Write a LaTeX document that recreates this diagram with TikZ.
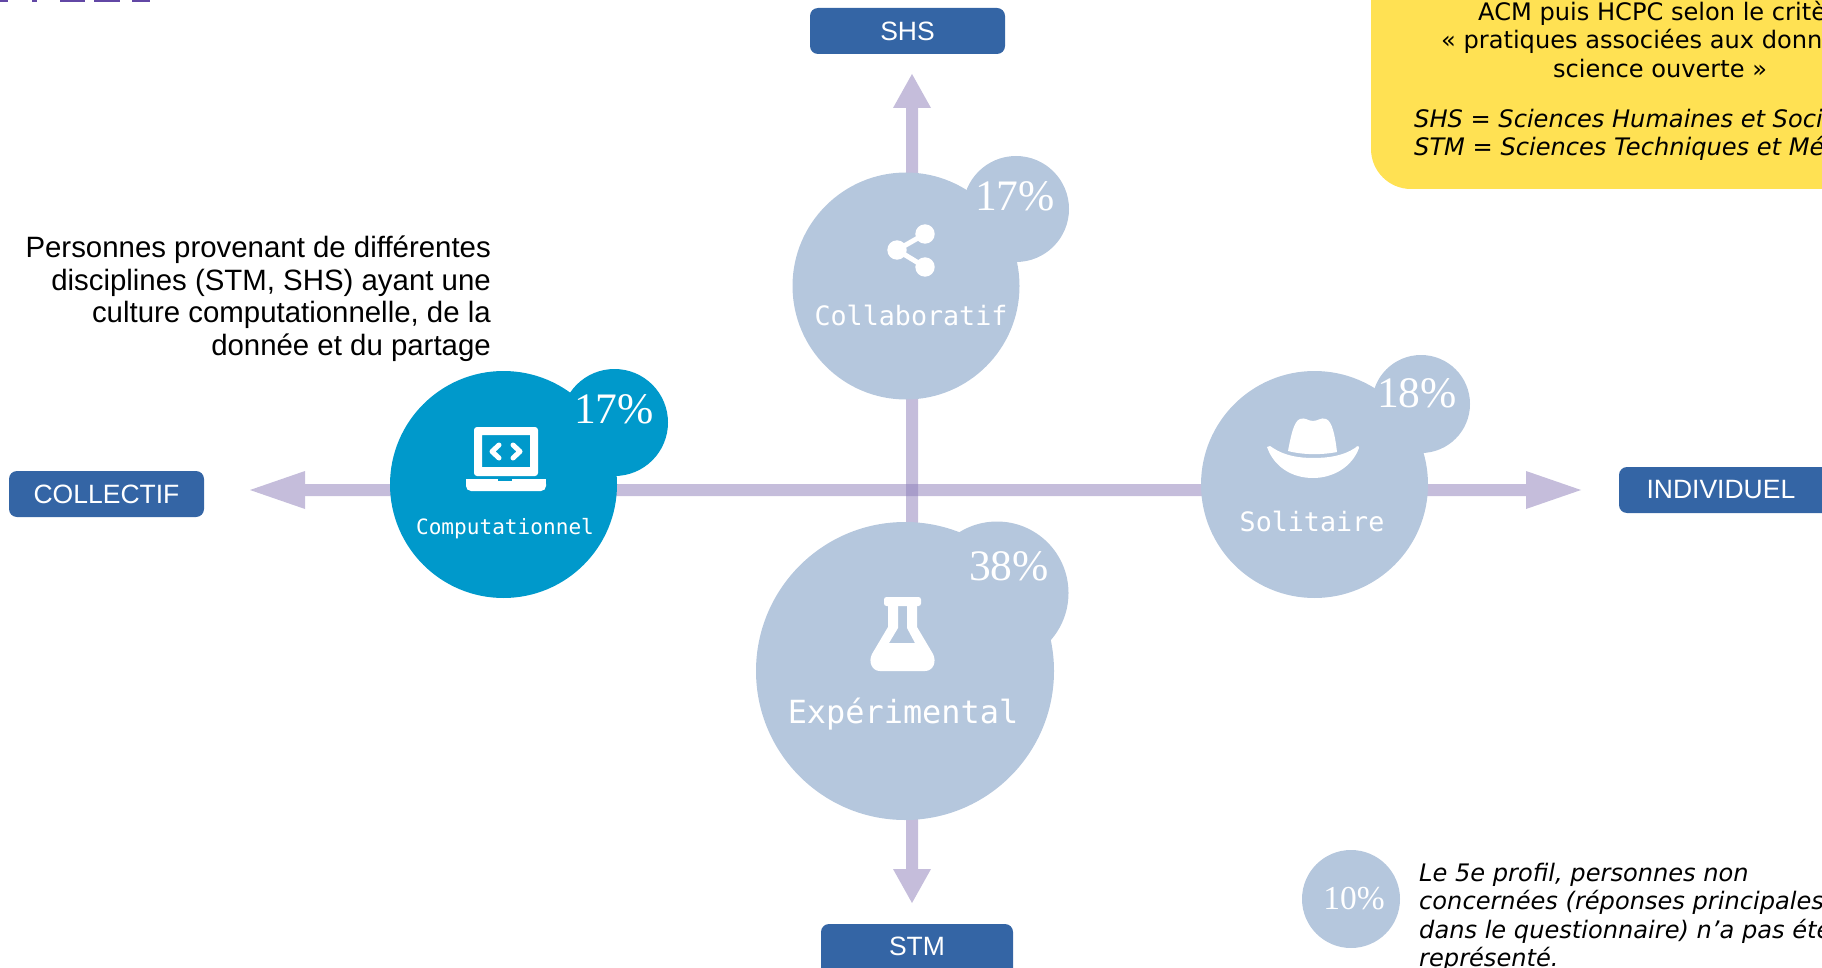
\documentclass[tikz,border=0pt]{standalone}
\usepackage{fontspec}
\setmainfont{Liberation Sans}
\newfontfamily\monofont{DejaVu Sans Mono}
\newfontfamily\percentfont{Liberation Serif}
\newfontfamily\notefont{DejaVu Sans}
\usetikzlibrary{arrows.meta}
\definecolor{bubbleblue}{HTML}{B5C7DD}
\definecolor{activeblue}{HTML}{0099CB}
\definecolor{boxblue}{HTML}{3465A5}
\definecolor{axispurple}{HTML}{8F80BA}
\definecolor{notebg}{HTML}{FFE153}
\definecolor{titlepurple}{HTML}{6247A5}
\tikzset{
  axislayer/.style={transparency group,opacity=.52},
  axisline/.style={line width=12pt,draw=axispurple,
    {Triangle[length=#1,width=38pt,line width=0pt]}-{Triangle[length=#1,width=38pt,line width=0pt]}},
  bubble/.style={circle,inner sep=0pt,fill=bubbleblue},
  axisbox/.style={rectangle,rounded corners=8pt,fill=boxblue,text=white,inner sep=0pt,font=\fontsize{26.5}{30}\selectfont},
  pct/.style={text=white,inner sep=0pt,font=\percentfont\fontsize{43.5}{47}\selectfont},
  profile/.style={text=white,inner sep=0pt,anchor=base,font=\monofont\fontsize{26.7}{30}\selectfont},
  note/.style={inner sep=0pt,font=\notefont\fontsize{24.1}{28}\selectfont},
  lefttext/.style={anchor=base east,inner sep=0pt,font=\fontsize{29.4}{32.5}\selectfont}
}
\begin{document}
\begin{tikzpicture} [x=1pt,y=-1pt]
          \useasboundingbox (0,0) rectangle (1822,968);
          \clip (0,0) rectangle (1822,968);
          % cut title and note box
          \foreach \xa/\xb in {0/8,32/37,60/85,94/120,132/150,1371/1379}
            \fill [titlepurple] (\xa,0) rectangle (\xb,2);
          \fill [notebg,rounded corners=40pt] (1371,-60) rectangle (1900,189);
          \node [note,anchor=base west] (acmline) at (1478,21) {ACM puis HCPC selon le critère};
          \node [note,anchor=base west] (pratline) at (1441,49) {« pratiques associées aux données de};
          \node [note,anchor=base] (sciline) at (1660,78) {science ouverte »};
          \node [note,anchor=base west] (shsline) at (1414,128) {\itshape SHS = Sciences Humaines et Sociales};
          \node [note,anchor=base west] (stmline) at (1414,156) {\itshape STM = Sciences Techniques et Médecine};
          % axes
          \coordinate (westtip) at (250,490);
          \coordinate (easttip) at (1581,490);
          \coordinate (northtip) at (912,74);
          \coordinate (southtip) at (912,903);
          \begin{scope}[axislayer]
            \draw [axisline=55pt] (westtip) -- (easttip);
          \end{scope}
          \begin{scope}[axislayer]
            \draw [axisline=34pt] (northtip) -- (southtip);
          \end{scope}
          \node [axisbox,minimum width=195pt,minimum height=46pt] (collectif) at (106.5,494) {COLLECTIF};
          \node [axisbox,minimum width=240pt,minimum height=46pt,text width=203pt,align=left] (individuel) at (1739,490) {\hspace{9pt}INDIVIDUEL};
          \node [axisbox,minimum width=195pt,minimum height=46pt] (shs) at (907.5,31) {SHS};
          \node [axisbox,minimum width=192pt,minimum height=70pt,text depth=25pt] (stm) at (917,959) {STM};
          % computationnel
          \node [bubble,fill=activeblue,minimum size=227pt] (compbubble) at (503.5,484.5) {};
          \node [bubble,fill=activeblue,minimum size=107pt] (compbadge) at (614.5,422.5) {};
          \node [pct] (comppct) at (614,409) {17\%};
          \node [profile,font=\monofont\fontsize{21.1}{26}\selectfont] (complabel) at (505,534) {Computationnel};
          \fill [white,rounded corners=3pt,even odd rule] (474,427) rectangle (538,476) (482,435) [sharp corners] rectangle (530,467);
          \draw [white,line width=5pt,line cap=round,line join=round] (499,445)--(492,451.5)--(499,458);
          \draw [white,line width=5pt,line cap=round,line join=round] (513,445)--(520,451.5)--(513,458);
          \fill [white,rounded corners=5pt] (466,479)--(466,491)--(546,491)--(546,479)--cycle;
          \fill [white] (466,479) rectangle (546,484);
          \fill [activeblue] (498,478) rectangle (512,481);
          % collaboratif
          \node [bubble,minimum size=227pt] (collabbubble) at (906,286) {};
          \node [bubble,minimum size=106pt] (collabbadge) at (1016,209) {};
          \node [pct] (collabpct) at (1015,196) {17\%};
          \node [profile] (collablabel) at (911,325) {Collaboratif};
          \fill [white] (897,250) circle (9.7pt);
          \fill [white] (925,234) circle (9.7pt);
          \fill [white] (925,267) circle (9.7pt);
          \draw [white,line width=5pt] (925,234)--(897,250)--(925,267);
          % solitaire
          \node [bubble,minimum size=227pt] (solobubble) at (1314.5,484.5) {};
          \node [bubble,minimum size=98pt] (solobadge) at (1421,404) {};
          \node [pct] (solopct) at (1417,393) {18\%};
          \node [profile] (sololabel) at (1312,531) {Solitaire};
          \fill [white] (1288,451) .. controls (1291,435) and (1294,421) .. (1300,419) .. controls (1305,417) and (1308,421) .. (1313,421)
            .. controls (1318,421) and (1321,417) .. (1326,419) .. controls (1332,421) and (1335,435) .. (1337,452)
            .. controls (1322,455) and (1303,455) .. (1288,451) -- cycle;
          \fill [white] (1267,447) .. controls (1269,445) and (1271,446) .. (1273,448) .. controls (1285,456) and (1300,458) .. (1313,458)
            .. controls (1328,458) and (1343,456) .. (1355,448) .. controls (1357,446) and (1359,445) .. (1359,448)
            .. controls (1352,467) and (1333,478) .. (1313,478) .. controls (1292,478) and (1274,467) .. (1267,447) -- cycle;
          % experimental
          \node [bubble,minimum size=298pt] (expbubble) at (905,671) {};
          \node [bubble,minimum size=143pt] (expbadge) at (997,593) {};
          \node [pct] (exppct) at (1009,566) {38\%};
          \node [profile,font=\monofont\fontsize{31.9}{35}\selectfont] (explabel) at (903,723) {Expérimental};
          \fill [white,rounded corners=2.5pt] (884,597) rectangle (921,606);
          \fill [white,even odd rule] (888,604)--(917,604)--(917,627)--(933,654)
            .. controls (937,662) and (933,671) .. (925,671)--(880,671)
            .. controls (872,671) and (868,662) .. (872,654)--(888,627)--cycle
            (898,604)--(907,604)--(907,628)--(915,643)--(889,643)--(898,628)--cycle;
          % fifth profile
          \node [bubble,minimum size=98pt] (otherbubble) at (1351,899) {};
          \node [pct,font=\percentfont\fontsize{33.5}{36}\selectfont] (otherpct) at (1354,899) {10\%};
          \node [note,anchor=base west] (otherone) at (1419,881) {\itshape Le 5e profil, personnes non};
          \node [note,anchor=base west] (othertwo) at (1419,909) {\itshape concernées (réponses principales};
          \node [note,anchor=base west] (otherthree) at (1419,938) {\itshape dans le questionnaire) n’a pas été};
          \node [note,anchor=base west] (otherfour) at (1419,966) {\itshape représenté.};
          % left text
          \node [lefttext] (computext) at (491,258) {Personnes provenant de différentes};
          \node [lefttext] (computexttwo) at (491,290.5) {disciplines (STM, SHS) ayant une};
          \node [lefttext] (computextthree) at (491,322) {culture computationnelle, de la};
          \node [lefttext] (computextfour) at (491,355.5) {donnée et du partage};
        \end{tikzpicture}
\end{document}
